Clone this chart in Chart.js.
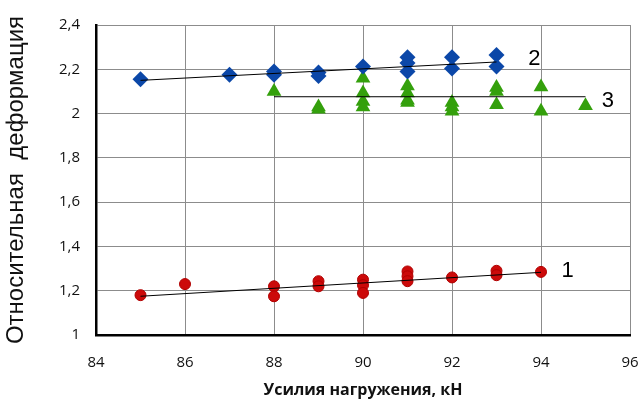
<!DOCTYPE html>
<html>
<head>
<meta charset="utf-8">
<script src="https://cdn.jsdelivr.net/npm/chart.js@4/dist/chart.umd.min.js"></script>
<style>
  html, body { margin: 0; padding: 0; background: #fff; }
  #wrap { width: 643px; height: 402px; position: relative; }
</style>
</head>
<body>
<div id="wrap"><canvas id="c"></canvas></div>
<script>
// Series 1 — red circles
const load1 = [85, 86, 88, 88, 89, 89, 90, 90, 90, 91, 91, 91, 92, 93, 93, 94];
const strain1 = [1.18, 1.23, 1.22, 1.175, 1.243, 1.22, 1.25, 1.225, 1.19, 1.287, 1.265, 1.243, 1.26, 1.29, 1.27, 1.285];

// Series 2 — blue diamonds
const load2 = [85, 87, 88, 88, 89, 89, 90, 91, 91, 91, 92, 92, 93, 93];
const strain2 = [2.155, 2.175, 2.19, 2.175, 2.185, 2.17, 2.213, 2.254, 2.228, 2.19, 2.254, 2.203, 2.265, 2.213];

// Series 3 — green triangles
const load3 = [88, 89, 89, 90, 90, 90, 90, 91, 91, 91, 91, 92, 92, 92, 93, 93, 93, 94, 94, 95];
const strain3 = [2.1, 2.03, 2.02, 2.16, 2.093, 2.055, 2.03, 2.125, 2.093, 2.06, 2.05, 2.05, 2.03, 2.01, 2.118, 2.1, 2.04, 2.12, 2.01, 2.035];

// Linear trend lines: [start, end] as load / strain pairs
const trendLoad1 = [85, 94];
const trendStrain1 = [1.175, 1.283];
const trendLoad2 = [85, 93];
const trendStrain2 = [2.15, 2.233];
const trendLoad3 = [88, 95];
const trendStrain3 = [2.076, 2.076];

// Series number labels
const seriesNames = ['1', '2', '3'];
const nameLoad = [94.6, 93.85, 95.5];
const nameStrain = [1.29, 2.245, 2.055];

// Axis ranges
const xTicks = [84, 86, 88, 90, 92, 94, 96];
const yMin = 1, yMax = 2.4, yStep = 0.2;

const pts = (xs, ys) => xs.map((x, i) => ({ x: x, y: ys[i] }));

const seriesLabels = {
  id: 'seriesLabels',
  afterDatasetsDraw(chart) {
    const { ctx, scales: { x, y } } = chart;
    ctx.save();
    ctx.fillStyle = '#000';
    ctx.font = '22px "Liberation Sans", Arial, sans-serif';
    ctx.textAlign = 'center';
    ctx.textBaseline = 'middle';
    seriesNames.forEach((t, i) => {
      ctx.fillText(t, x.getPixelForValue(nameLoad[i]), y.getPixelForValue(nameStrain[i]));
    });
    ctx.restore();
  }
};

const trendStyle = {
  showLine: true, borderColor: '#000', borderWidth: 1, pointRadius: 0,
  pointHoverRadius: 0, fill: false, order: 0
};

new Chart(document.getElementById('c'), {
  type: 'scatter',
  data: {
    datasets: [
      Object.assign({ data: pts(trendLoad1, trendStrain1) }, trendStyle),
      Object.assign({ data: pts(trendLoad2, trendStrain2) }, trendStyle),
      Object.assign({ data: pts(trendLoad3, trendStrain3) }, trendStyle),
      {
        data: pts(load1, strain1), order: 1,
        pointStyle: 'circle', pointRadius: 5.5,
        backgroundColor: '#cc0a0a', borderColor: '#b00000', borderWidth: 1
      },
      {
        data: pts(load2, strain2), order: 1,
        pointStyle: 'rectRot', pointRadius: 8,
        backgroundColor: '#0b47a8', borderColor: '#0b47a8', borderWidth: 0
      },
      {
        data: pts(load3, strain3), order: 1,
        pointStyle: 'triangle', pointRadius: 8.5,
        backgroundColor: '#34a00c', borderColor: '#34a00c', borderWidth: 0
      }
    ]
  },
  options: {
    responsive: true,
    maintainAspectRatio: false,
    animation: false,
    events: [],
    layout: { padding: { top: 25, right: 13, left: 0, bottom: 0 } },
    plugins: { legend: { display: false }, tooltip: { enabled: false } },
    scales: {
      x: {
        type: 'linear',
        min: xTicks[0], max: xTicks[xTicks.length - 1],
        afterBuildTicks(scale) { scale.ticks = xTicks.map(v => ({ value: v })); },
        afterFit(scale) { scale.height = 67; scale.paddingLeft = 0; scale.paddingRight = 0; },
        grid: { color: '#8c8c8c', lineWidth: 1, drawTicks: false },
        border: { color: '#000', width: 2.5 },
        ticks: {
          padding: 19, color: '#111',
          font: { family: '"Open Sans", sans-serif', size: 15 }
        },
        title: {
          display: true, text: 'Усилия нагружения, кН', color: '#111',
          font: { family: '"Open Sans", sans-serif', size: 16, weight: 'bold' },
          padding: { top: 0, bottom: 2 }
        }
      },
      y: {
        min: yMin, max: yMax,
        afterFit(scale) { scale.width = 96; scale.paddingTop = 0; scale.paddingBottom = 0; },
        grid: { color: '#8c8c8c', lineWidth: 1, drawTicks: false },
        border: { color: '#000', width: 2.5 },
        ticks: {
          stepSize: yStep, padding: 16, color: '#111',
          font: { family: '"Open Sans", sans-serif', size: 15 },
          callback: v => String(Math.round(v * 10) / 10).replace('.', ',')
        },
        title: {
          display: true, text: 'Относительная  деформация', color: '#111',
          font: { family: '"Liberation Sans", Arial, sans-serif', size: 24 },
          padding: { top: 2, bottom: 0 }
        }
      }
    }
  },
  plugins: [seriesLabels]
});
</script>
</body>
</html>
